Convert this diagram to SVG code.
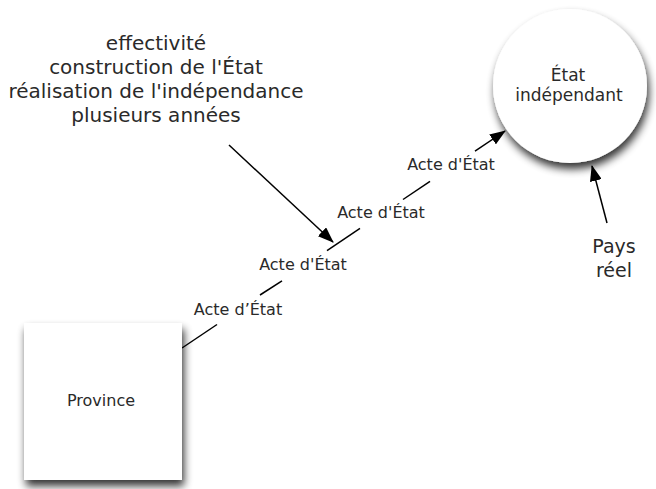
<svg xmlns="http://www.w3.org/2000/svg" width="656" height="489" viewBox="0 0 656 489">
  <defs>
    <filter id="shadow" x="-20%" y="-20%" width="150%" height="150%">
      <feGaussianBlur in="SourceAlpha" stdDeviation="4"/>
      <feOffset dx="2" dy="6" result="b"/>
      <feComponentTransfer><feFuncA type="linear" slope="0.8"/></feComponentTransfer>
      <feMerge><feMergeNode/><feMergeNode in="SourceGraphic"/></feMerge>
    </filter>
    <marker id="arrow" viewBox="0 0 16 12" refX="15" refY="6" markerWidth="16" markerHeight="12" markerUnits="userSpaceOnUse" orient="auto">
      <path d="M0,0 L16,6 L0,12 Z" fill="#000"/>
    </marker>
  </defs>
  <style>
    text { font-family: "DejaVu Sans", "Liberation Sans", sans-serif; fill: #2a2a2a; text-anchor: middle; }
    .lbl { font-size: 16px; }
    .circ { font-size: 17px; }
    .big { font-size: 20px; }
    .pays { font-size: 19px; }
    .edge { stroke: #000; stroke-width: 1.5; fill: none; }
    .node { fill: #fff; filter: url(#shadow); }
  </style>
  <rect width="656" height="489" fill="#fff"/>

  <g id="connectors">
    <line class="edge" x1="182" y1="348" x2="217" y2="324.5"/>
    <line class="edge" x1="260" y1="295" x2="282" y2="280.8"/>
    <line class="edge" x1="327" y1="250.6" x2="360" y2="228.4"/>
    <line class="edge" x1="403" y1="199.5" x2="430" y2="181.4"/>
    <line class="edge" x1="475" y1="151.2" x2="505" y2="131" marker-end="url(#arrow)"/>
    <line class="edge" x1="229" y1="145" x2="333" y2="242" marker-end="url(#arrow)"/>
    <line class="edge" x1="607" y1="223" x2="592" y2="166" marker-end="url(#arrow)"/>
    <text class="lbl" x="238" y="315">Acte d’État</text>
    <text class="lbl" x="303" y="270">Acte d'État</text>
    <text class="lbl" x="381" y="218">Acte d'État</text>
    <text class="lbl" x="451" y="170">Acte d'État</text>
  </g>

  <g id="province">
    <rect class="node" x="24" y="323" width="158" height="157"/>
    <text class="lbl" x="101" y="406">Province</text>
  </g>

  <g id="etat-independant">
    <circle class="node" cx="570" cy="86" r="77"/>
    <text class="circ" x="568" y="81">État</text>
    <text class="circ" x="569" y="101">indépendant</text>
  </g>

  <g id="annotation">
    <text class="big" x="156" y="50">effectivité</text>
    <text class="big" x="156" y="74">construction de l'État</text>
    <text class="big" x="156" y="98">réalisation de l'indépendance</text>
    <text class="big" x="156" y="122">plusieurs années</text>
  </g>

  <g id="pays-reel">
    <text class="pays" x="614" y="253">Pays</text>
    <text class="pays" x="614" y="277">réel</text>
  </g>
</svg>
